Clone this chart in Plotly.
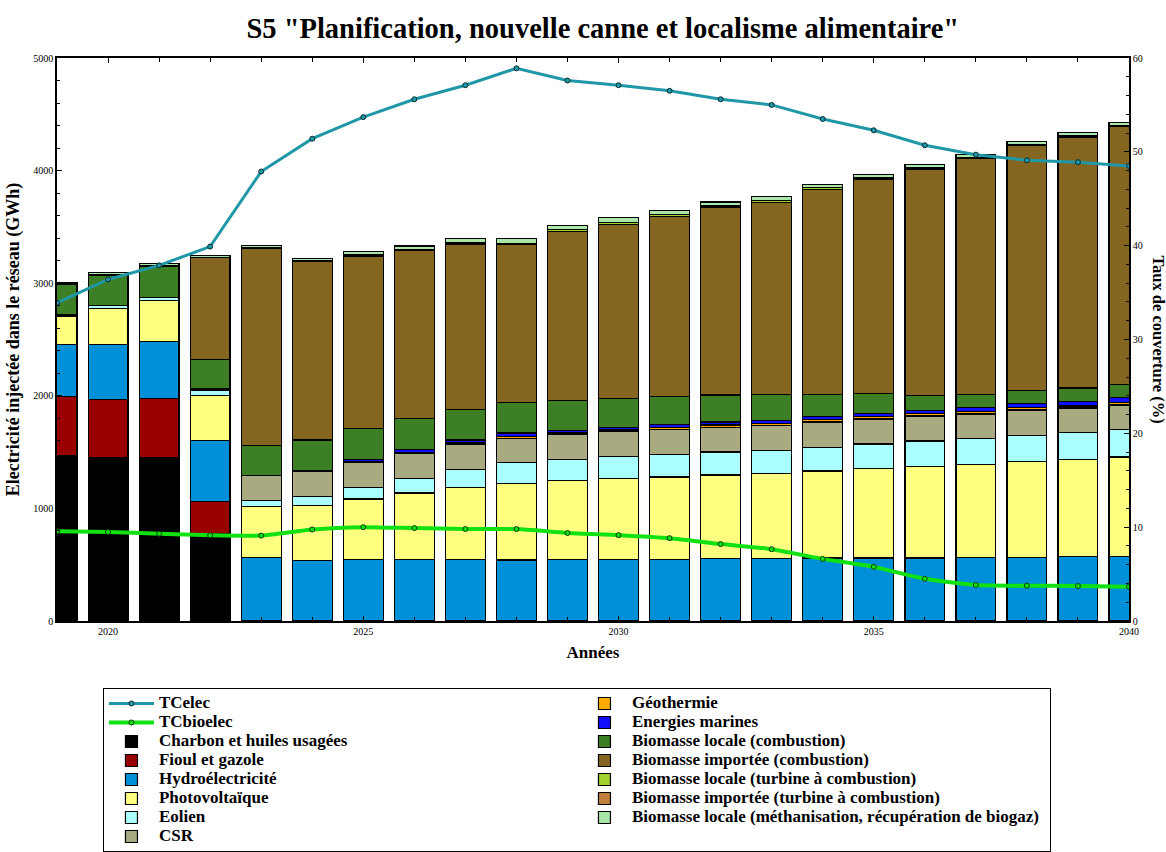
import plotly.graph_objects as go

years = list(range(2019, 2041))

charbon = [1468, 1448, 1450, 779] + [0] * 18
fioul = [527, 521, 524, 284] + [0] * 18
hydro = [459, 485, 510, 542, 566, 539, 545, 548, 548, 542, 548, 548, 548, 553, 553, 560, 560, 560, 566, 566, 571, 571]
pv = [255, 323, 361, 399, 449, 488, 538, 589, 639, 681, 701, 716, 731, 744, 755, 772, 793, 810, 825, 852, 865, 885]
eolien = [13, 23, 29, 42, 53, 77, 104, 130, 160, 183, 187, 195, 201, 204, 208, 211, 219, 229, 228, 231, 236, 246]
csr = [0, 0, 0, 14, 222, 221, 225, 222, 225, 217, 225, 222, 222, 219, 222, 224, 222, 222, 219, 225, 220, 216]
geo = [0, 0, 0, 0, 0, 0, 4, 10, 12, 18, 13, 15, 20, 20, 18, 22, 20, 20, 25, 22, 18, 22]
marines = [0, 0, 0, 0, 0, 7, 20, 26, 23, 29, 20, 25, 26, 28, 27, 30, 29, 31, 35, 35, 42, 45]
bl_comb = [268, 267, 273, 264, 270, 275, 275, 273, 273, 270, 267, 257, 248, 240, 228, 195, 177, 133, 113, 116, 118, 115]
bi_comb = [10, 8, 12, 903, 1746, 1583, 1530, 1489, 1468, 1403, 1501, 1546, 1599, 1664, 1708, 1821, 1903, 2010, 2093, 2176, 2229, 2294]
bl_turb = [0, 0, 0, 0, 8, 8, 10, 10, 10, 10, 12, 12, 12, 12, 12, 12, 10, 8, 8, 6, 6, 6]
bi_turb = [0, 0, 0, 0, 0, 0, 0, 0, 0, 2, 2, 2, 2, 2, 2, 2, 2, 2, 2, 2, 2, 2]
methan = [8, 18, 18, 20, 21, 20, 32, 34, 38, 39, 36, 42, 39, 36, 36, 30, 33, 28, 27, 28, 29, 28]

tc_elec = [33.9, 36.4, 37.9, 39.9, 47.9, 51.4, 53.7, 55.6, 57.1, 58.9, 57.6, 57.1, 56.5, 55.6, 55.0, 53.5, 52.3, 50.7, 49.7, 49.1, 48.9, 48.5]
tc_bioelec = [9.56, 9.49, 9.31, 9.13, 9.1, 9.75, 10.0, 9.9, 9.8, 9.8, 9.38, 9.15, 8.83, 8.2, 7.65, 6.62, 5.77, 4.5, 3.84, 3.76, 3.73, 3.66]

series = [
    ("Charbon et huiles usagées", charbon, "#000000", 5),
    ("Fioul et gazole", fioul, "#990000", 7),
    ("Hydroélectricité", hydro, "#0090d8", 9),
    ("Photovoltaïque", pv, "#ffff80", 11),
    ("Eolien", eolien, "#aaffff", 13),
    ("CSR", csr, "#aaaa80", 15),
    ("Géothermie", geo, "#ffaa00", 2),
    ("Energies marines", marines, "#1010ff", 4),
    ("Biomasse locale (combustion)", bl_comb, "#3d7f24", 6),
    ("Biomasse importée (combustion)", bi_comb, "#846620", 8),
    ("Biomasse locale (turbine à combustion)", bl_turb, "#9fd22f", 10),
    ("Biomasse importée (turbine à combustion)", bi_turb, "#c0803c", 12),
    ("Biomasse locale (méthanisation, récupération de biogaz)", methan, "#aae6aa", 14),
]

FONT = "Liberation Serif"


def leg(name):
    return '<span style="font-size:17px">' + name + '</span>'


fig = go.Figure()

for name, vals, color, rank in series:
    fig.add_trace(go.Bar(
        x=years, y=vals, name=leg(name), width=0.78,
        marker=dict(color=color, line=dict(color="black", width=1.2)),
        legendrank=rank,
    ))

fig.add_trace(go.Scatter(
    x=years, y=tc_elec, name=leg("TCelec"), yaxis="y2", mode="lines+markers",
    line=dict(color="#1f97a6", width=3),
    marker=dict(size=5, color="#1f97a6", line=dict(color="#0a2a30", width=1)),
    legendrank=1,
))
fig.add_trace(go.Scatter(
    x=years, y=tc_bioelec, name=leg("TCbioelec"), yaxis="y2", mode="lines+markers",
    line=dict(color="#11e011", width=4, shape="spline", smoothing=0.6),
    marker=dict(size=5, color="#11e011", line=dict(color="#0a3a0a", width=1)),
    legendrank=3,
))

fig.update_layout(
    width=1166, height=852,
    paper_bgcolor="white", plot_bgcolor="white",
    barmode="stack",
    margin=dict(l=57, r=37, t=58, b=231, autoexpand=False),
    font=dict(family=FONT, color="black"),
    title=dict(
        text='S5 "Planification, nouvelle canne et localisme alimentaire"',
        font=dict(family=FONT, size=28.5, color="black", weight="bold"),
        x=0.517, xanchor="center", y=0.967, yanchor="middle",
    ),
    xaxis=dict(
        range=[2019, 2040], tickmode="linear", tick0=2020, dtick=5,
        ticks="inside", ticklen=5, tickcolor="black",
        minor=dict(dtick=1, ticks="inside", ticklen=4, tickcolor="black"),
        showline=True, linecolor="black", linewidth=1.5, mirror="ticks",
        showgrid=False, zeroline=False,
        tickfont=dict(size=10, family=FONT),
        title=dict(text="Années", font=dict(size=17, family=FONT, weight="bold"), standoff=10),
    ),
    yaxis=dict(
        range=[0, 5000], tickmode="linear", tick0=0, dtick=1000,
        ticks="inside", ticklen=5, tickcolor="black",
        minor=dict(dtick=200, ticks="inside", ticklen=3, tickcolor="black"),
        showline=True, linecolor="black", linewidth=1.5,
        showgrid=False, zeroline=False,
        tickfont=dict(size=10, family=FONT),
        title=dict(text="Electricité injectée dans le réseau (GWh)",
                   font=dict(size=18, family=FONT, weight="bold"), standoff=9),
    ),
    yaxis2=dict(
        range=[0, 60], overlaying="y", side="right", tickmode="linear", tick0=0, dtick=10,
        ticks="inside", ticklen=5, tickcolor="black",
        minor=dict(dtick=2, ticks="inside", ticklen=3, tickcolor="black"),
        showline=True, linecolor="black", linewidth=1.5,
        showgrid=False, zeroline=False,
        tickfont=dict(size=10, family=FONT),
    ),
    legend=dict(
        orientation="h", xref="container", yref="container",
        x=0.0883, xanchor="left", y=0.1925, yanchor="top",
        traceorder="normal", entrywidth=413, entrywidthmode="pixels",
        bordercolor="black", borderwidth=1, bgcolor="white",
        font=dict(size=12.3, family=FONT, weight="bold"),
        tracegroupgap=0, itemwidth=45,
    ),
    annotations=[dict(
        text="Taux de couverture (%)", textangle=90,
        xref="paper", yref="paper", x=1.0, y=0.5, xshift=29,
        xanchor="center", yanchor="middle", showarrow=False,
        font=dict(size=16.5, family=FONT, weight="bold"),
    )],
)

fig.write_html("out.html", config={"displayModeBar": False},
               post_script="document.body.style.margin='0px';")
